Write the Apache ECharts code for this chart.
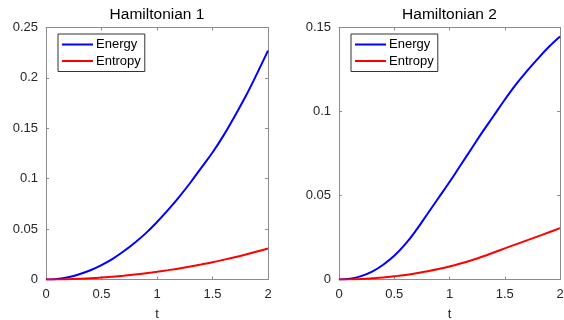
<!DOCTYPE html>
<html>
<head>
<meta charset="utf-8">
<script src="https://cdn.jsdelivr.net/npm/echarts@6/dist/echarts.min.js"></script>
<style>
  html, body { margin: 0; padding: 0; background: #fff; }
  #chart { width: 564px; height: 320px; }
</style>
</head>
<body>
<div id="chart"></div>
<script>
// time steps
var t = [0, 0.1, 0.2, 0.3, 0.4, 0.5, 0.6, 0.7, 0.8, 0.9, 1.0, 1.1, 1.2, 1.3, 1.4, 1.5, 1.6, 1.7, 1.8, 1.9, 2.0]

// Hamiltonian 1
var energy1 = [0, 0.0006, 0.0023, 0.0052, 0.0092, 0.0143, 0.0205, 0.028, 0.0365, 0.046, 0.057, 0.069, 0.082, 0.096, 0.111, 0.126, 0.143, 0.162, 0.182, 0.204, 0.227]
var entropy1 = [0, 0.0001, 0.0003, 0.0007, 0.0012, 0.0019, 0.0028, 0.0038, 0.0049, 0.0062, 0.0077, 0.0093, 0.011, 0.0129, 0.015, 0.0172, 0.0196, 0.0221, 0.0248, 0.0277, 0.0308]

// Hamiltonian 2
var energy2 = [0, 0.0005, 0.002, 0.0047, 0.0088, 0.0141, 0.021, 0.0295, 0.039, 0.0485, 0.058, 0.068, 0.078, 0.088, 0.0975, 0.107, 0.116, 0.124, 0.1315, 0.1385, 0.1446]
var entropy2 = [0, 0.0001, 0.0003, 0.0007, 0.0012, 0.0019, 0.0027, 0.0037, 0.0049, 0.0062, 0.0077, 0.0095, 0.0115, 0.0137, 0.0161, 0.0185, 0.0209, 0.0233, 0.0257, 0.0281, 0.0306]

var titles = ['Hamiltonian 1', 'Hamiltonian 2']
var yMax = [0.25, 0.15]
var seriesNames = ['Energy', 'Entropy']

var font = "'Liberation Sans', Arial, sans-serif"
var boxColor = '#8c8c8c'

function pairs(xs, ys) {
  return xs.map(function (x, i) { return [x, ys[i]] })
}

var mychart = echarts.init(document.getElementById('chart'))

var grids = [
  { left: 46, right: 296, top: 27.5, bottom: 40.5, outerBoundsMode: 'none', containLabel: false },
  { left: 339, right: 4, top: 27.5, bottom: 40.5, outerBoundsMode: 'none', containLabel: false }
]

var xAxes = []
var yAxes = []
var series = []
var legends = []
var titleList = []
var legendLeft = [58, 351]

grids.forEach(function (g, i) {
  // bottom + top x axes (box)
  ;['bottom', 'top'].forEach(function (pos) {
    xAxes.push({
      type: 'value', gridIndex: i, position: pos,
      min: 0, max: 2, interval: 0.5,
      name: pos === 'bottom' ? 't' : '',
      nameLocation: 'middle', nameGap: 28,
      nameTextStyle: { color: '#262626', fontSize: 13, fontFamily: font },
      axisLine: { show: true, onZero: false, lineStyle: { color: boxColor, width: 1 } },
      axisTick: { show: true, inside: true, length: 3, lineStyle: { color: boxColor } },
      axisLabel: { show: pos === 'bottom', color: '#262626', fontSize: 13, fontFamily: font, margin: 8 },
      splitLine: { show: false }
    })
  })
  // left + right y axes (box)
  ;['left', 'right'].forEach(function (pos) {
    yAxes.push({
      type: 'value', gridIndex: i, position: pos,
      min: 0, max: yMax[i], interval: 0.05,
      axisLine: { show: true, onZero: false, lineStyle: { color: boxColor, width: 1 } },
      axisTick: { show: true, inside: true, length: 3, lineStyle: { color: boxColor } },
      axisLabel: { show: pos === 'left', color: '#262626', fontSize: 13, fontFamily: font, margin: 8 },
      splitLine: { show: false }
    })
  })
  titleList.push({
    text: titles[i],
    left: (i === 0 ? 157 : 449.5), top: 7, textAlign: 'center',
    padding: 0,
    textStyle: { color: '#000', fontWeight: 'normal', fontSize: 15.5, fontFamily: font }
  })
  legends.push({
    data: seriesNames,
    orient: 'vertical',
    left: legendLeft[i], top: 34,
    icon: 'rect',
    itemWidth: 31, itemHeight: 2, itemGap: 1.5,
    padding: [3, 4, 3, 4],
    borderColor: '#333', borderWidth: 1, backgroundColor: '#fff',
    selectedMode: false,
    textStyle: { color: '#000', fontSize: 13, fontFamily: font, padding: [0, 0, 0, -2], lineHeight: 15 }
  })
})

var data = [[energy1, entropy1], [energy2, entropy2]]
var colors = ['#0000ff', '#ff0000']

data.forEach(function (pair, i) {
  pair.forEach(function (vals, j) {
    series.push({
      name: seriesNames[j],
      type: 'line',
      xAxisIndex: i * 2,
      yAxisIndex: i * 2,
      data: pairs(t, vals),
      smooth: 0.4,
      symbol: 'none',
      color: colors[j],
      lineStyle: { width: 2, color: colors[j] },
      z: 3
    })
  })
})

var option = {
  animation: false,
  backgroundColor: '#fff',
  title: titleList,
  legend: legends,
  grid: grids,
  xAxis: xAxes,
  yAxis: yAxes,
  series: series
}
mychart.setOption(option, true)
</script>
</body>
</html>
